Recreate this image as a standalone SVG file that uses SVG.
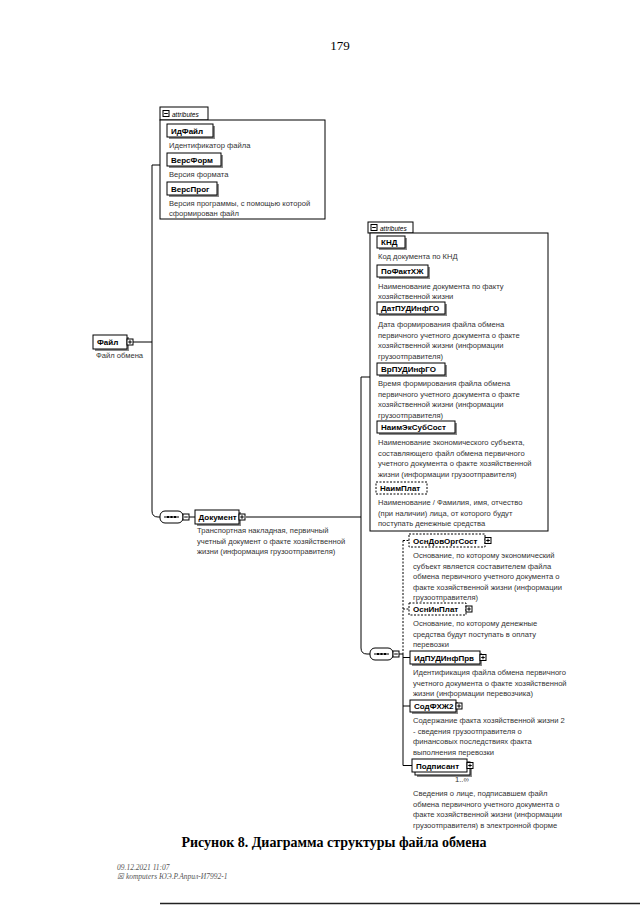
<svg xmlns="http://www.w3.org/2000/svg" xmlns:xlink="http://www.w3.org/1999/xlink" width="640" height="905" viewBox="0 0 640 905">
<defs>
<style>
.bg{fill:#fff}
.ln{stroke:#000;stroke-width:1;fill:none}
.dl{stroke:#000;stroke-width:1;fill:none;stroke-dasharray:2,1.5}
.box{fill:#fff;stroke:#000;stroke-width:1}
.obox{fill:#fff;stroke:#000;stroke-width:1;stroke-dasharray:2,1.5}
.sh{fill:#8a8a8a}
.cont{fill:#fff;stroke:#000;stroke-width:1}
.nm{font-family:"Liberation Sans",Arial,sans-serif;font-size:8px;font-weight:bold;fill:#000}
.ds{font-family:"Liberation Sans",Arial,sans-serif;font-size:7.6px;fill:#333}
.tab{font-family:"Liberation Sans",Arial,sans-serif;font-size:6.5px;font-style:italic;fill:#000}
.cap{font-family:"Liberation Serif","Times New Roman",serif;font-size:14px;font-weight:bold;fill:#000}
.pg{font-family:"Liberation Serif","Times New Roman",serif;font-size:13px;fill:#000}
.ft{font-family:"Liberation Serif","Times New Roman",serif;font-size:7.5px;font-style:italic;fill:#555}
</style>
<g id="plus"><rect x="0" y="0" width="6" height="6" class="box"/><path d="M1.2 3H4.8M3 1.2V4.8" class="ln"/></g>
<g id="minus"><rect x="0" y="0" width="6" height="6" class="box"/><path d="M1.2 3H4.8" class="ln"/></g>
<g id="seq"><rect x="0" y="0" width="23" height="12" rx="5" ry="5" class="box"/><path d="M4 6H19" class="ln"/><rect x="7" y="5" width="2" height="2"/><rect x="10.5" y="5" width="2" height="2"/><rect x="14" y="5" width="2" height="2"/></g>
</defs>
<rect class="bg" x="0" y="0" width="640" height="905"/>

<text class="pg" x="340" y="50" text-anchor="middle">179</text>

<g id="connectors">
<path class="ln" d="M133 342H152"/>
<path class="ln" d="M152 165H160"/>
<path class="ln" d="M152 165V511Q152 517 158 517H160"/>
<path class="ln" d="M189 517H195"/>
<path class="ln" d="M246 517H361"/>
<path class="ln" d="M361 377H370"/>
<path class="ln" d="M361 377V648Q361 654 367 654H370"/>
<path class="ln" d="M399 654H403"/>
<path class="dl" d="M403 540.5V654"/>
<path class="ln" d="M403 654V765.5"/>
<path class="dl" d="M403 540.5H409"/>
<path class="dl" d="M403 609H409"/>
<path class="ln" d="M403 657.5H410"/>
<path class="ln" d="M403 706H410"/>
<path class="ln" d="M403 765.5H412"/>
</g>

<g id="attributes1">
<rect class="cont" x="160" y="107" width="48" height="13"/>
<use xlink:href="#minus" x="163" y="110.5"/>
<text class="tab" x="172" y="116.5">attributes</text>
<rect class="cont" x="160" y="120" width="165" height="99"/>
</g>
<g id="ИдФайл">
<rect class="sh" x="169" y="126" width="46" height="13"/>
<rect class="box" x="167" y="124" width="46" height="13"/>
<text class="nm" x="171" y="133.5">ИдФайл</text>
<text class="ds" x="169" y="148">Идентификатор файла</text>
</g>
<g id="ВерсФорм">
<rect class="sh" x="169" y="155" width="54" height="13"/>
<rect class="box" x="167" y="153" width="54" height="13"/>
<text class="nm" x="171" y="162.5">ВерсФорм</text>
<text class="ds" x="169" y="177">Версия формата</text>
</g>
<g id="ВерсПрог">
<rect class="sh" x="169" y="184" width="50" height="13"/>
<rect class="box" x="167" y="182" width="50" height="13"/>
<text class="nm" x="171" y="191.5">ВерсПрог</text>
<text class="ds" x="169" y="205.5">Версия программы, с помощью которой</text>
<text class="ds" x="169" y="215.5">сформирован файл</text>
</g>

<g id="Файл">
<rect class="sh" x="95" y="337" width="34" height="14"/>
<rect class="box" x="93" y="335" width="34" height="14"/>
<text class="nm" x="97" y="345">Файл</text>
<use xlink:href="#plus" x="127" y="339"/>
<text class="ds" x="96" y="358">Файл обмена</text>
</g>

<g id="sequence1">
<use xlink:href="#seq" x="160" y="511"/>
<use xlink:href="#minus" x="183" y="514"/>
</g>

<g id="Документ">
<rect class="sh" x="197" y="512" width="44" height="14"/>
<rect class="box" x="195" y="510" width="44" height="14"/>
<text class="nm" x="198.5" y="520">Документ</text>
<use xlink:href="#plus" x="239" y="514"/>
<text class="ds" x="197" y="533">Транспортная накладная, первичный</text>
<text class="ds" x="197" y="543.5">учетный документ о факте хозяйственной</text>
<text class="ds" x="197" y="554">жизни (информация грузоотправителя)</text>
</g>

<g id="attributes2">
<rect class="cont" x="368" y="222" width="45" height="11"/>
<use xlink:href="#minus" x="371" y="224.5"/>
<text class="tab" x="380" y="230.5">attributes</text>
<rect class="cont" x="370" y="233" width="178" height="298"/>
</g>
<g id="КНД">
<rect class="sh" x="379" y="238" width="28" height="12"/>
<rect class="box" x="377" y="236" width="28" height="12"/>
<text class="nm" x="381" y="245">КНД</text>
<text class="ds" x="378" y="259">Код документа по КНД</text>
</g>
<g id="ПоФактХЖ">
<rect class="sh" x="379" y="267" width="51" height="12"/>
<rect class="box" x="377" y="265" width="51" height="12"/>
<text class="nm" x="381" y="274">ПоФактХЖ</text>
<text class="ds" x="378" y="289">Наименование документа по факту</text>
<text class="ds" x="378" y="299">хозяйственной жизни</text>
</g>
<g id="ДатПУДИнфГО">
<rect class="sh" x="379" y="304" width="68" height="12"/>
<rect class="box" x="377" y="302" width="68" height="12"/>
<text class="nm" x="381" y="311">ДатПУДИнфГО</text>
<text class="ds" x="378" y="327">Дата формирования файла обмена</text>
<text class="ds" x="378" y="337.5">первичного учетного документа о факте</text>
<text class="ds" x="378" y="348">хозяйственной жизни (информации</text>
<text class="ds" x="378" y="358.5">грузоотправителя)</text>
</g>
<g id="ВрПУДИнфГО">
<rect class="sh" x="379" y="365" width="68" height="12"/>
<rect class="box" x="377" y="363" width="68" height="12"/>
<text class="nm" x="381" y="372">ВрПУДИнфГО</text>
<text class="ds" x="378" y="386">Время формирования файла обмена</text>
<text class="ds" x="378" y="396.5">первичного учетного документа о факте</text>
<text class="ds" x="378" y="407">хозяйственной жизни (информации</text>
<text class="ds" x="378" y="417.5">грузоотправителя)</text>
</g>
<g id="НаимЭкСубСост">
<rect class="sh" x="379" y="423" width="78" height="12"/>
<rect class="box" x="377" y="421" width="78" height="12"/>
<text class="nm" x="381" y="430">НаимЭкСубСост</text>
<text class="ds" x="378" y="445">Наименование экономического субъекта,</text>
<text class="ds" x="378" y="455.5">составляющего файл обмена первичного</text>
<text class="ds" x="378" y="466">учетного документа о факте хозяйственной</text>
<text class="ds" x="378" y="476.5">жизни (информации грузоотправителя)</text>
</g>
<g id="НаимПлат">
<rect class="obox" x="376" y="482" width="51" height="12"/>
<text class="nm" x="380" y="491">НаимПлат</text>
<text class="ds" x="378" y="505">Наименование / Фамилия, имя, отчество</text>
<text class="ds" x="378" y="515.5">(при наличии) лица, от которого будут</text>
<text class="ds" x="378" y="526">поступать денежные средства</text>
</g>

<g id="sequence2">
<use xlink:href="#seq" x="370" y="648"/>
<use xlink:href="#minus" x="393" y="651"/>
</g>

<g id="ОснДовОргСост">
<rect class="obox" x="409" y="534" width="76" height="13"/>
<text class="nm" x="413" y="543.5">ОснДовОргСост</text>
<use xlink:href="#plus" x="485" y="537.5"/>
<text class="ds" x="413" y="558">Основание, по которому экономический</text>
<text class="ds" x="413" y="568.5">субъект является составителем файла</text>
<text class="ds" x="413" y="579">обмена первичного учетного документа о</text>
<text class="ds" x="413" y="589.5">факте хозяйственной жизни (информации</text>
<text class="ds" x="413" y="600">грузоотправителя)</text>
</g>
<g id="ОснИнПлат">
<rect class="obox" x="409" y="603" width="57" height="12"/>
<text class="nm" x="413" y="612">ОснИнПлат</text>
<use xlink:href="#plus" x="466" y="606"/>
<text class="ds" x="413" y="626">Основание, по которому денежные</text>
<text class="ds" x="413" y="636.5">средства будут поступать в оплату</text>
<text class="ds" x="413" y="647">перевозки</text>
</g>
<g id="ИдПУДИнфПрв">
<rect class="sh" x="412" y="653" width="70" height="13"/>
<rect class="box" x="410" y="651" width="70" height="13"/>
<text class="nm" x="414" y="660.5">ИдПУДИнфПрв</text>
<use xlink:href="#plus" x="480" y="654.5"/>
<text class="ds" x="413" y="675">Идентификация файла обмена первичного</text>
<text class="ds" x="413" y="685.5">учетного документа о факте хозяйственной</text>
<text class="ds" x="413" y="696">жизни (информации перевозчика)</text>
</g>
<g id="СодФХЖ2">
<rect class="sh" x="412" y="702" width="46" height="12"/>
<rect class="box" x="410" y="700" width="46" height="12"/>
<text class="nm" x="414" y="709">СодФХЖ2</text>
<use xlink:href="#plus" x="456" y="703"/>
<text class="ds" x="413" y="723">Содержание факта хозяйственной жизни 2</text>
<text class="ds" x="413" y="733.5">- сведения грузоотправителя о</text>
<text class="ds" x="413" y="744">финансовых последствиях факта</text>
<text class="ds" x="413" y="754.5">выполнения перевозки</text>
</g>
<g id="Подписант">
<rect class="sh" x="417" y="764" width="55" height="13"/>
<rect class="box" x="415" y="762" width="55" height="13"/>
<rect class="box" x="412" y="759" width="55" height="13"/>
<text class="nm" x="416" y="768.5">Подписант</text>
<use xlink:href="#plus" x="467" y="762.5"/>
<text class="ds" x="455" y="782" font-size="7px">1..∞</text>
<text class="ds" x="413" y="796">Сведения о лице, подписавшем файл</text>
<text class="ds" x="413" y="806.5">обмена первичного учетного документа о</text>
<text class="ds" x="413" y="817">факте хозяйственной жизни (информации</text>
<text class="ds" x="413" y="827.5">грузоотправителя) в электронной форме</text>
</g>

<text class="cap" x="334" y="847" text-anchor="middle">Рисунок 8. Диаграмма структуры файла обмена</text>
<text class="ft" x="117" y="870">09.12.2021 11:07</text>
<text class="ft" x="117" y="879">☒ komputers ЮЭ.Р.Април-И7992-1</text>
<path d="M160 903.5H640" stroke="#222" stroke-width="1.5" fill="none"/>
</svg>
